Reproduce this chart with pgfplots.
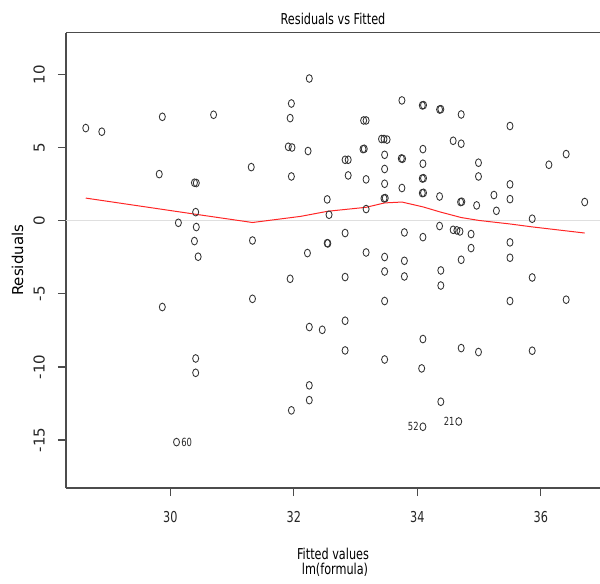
\documentclass[border=0pt]{standalone}
\usepackage{pgfplots}
\pgfplotsset{compat=1.18}
\usepackage{pgfplotstable}
\usepackage{fontspec}
\setmainfont{DejaVu Sans}
\newfontfamily\hfont[FakeStretch=0.75]{DejaVu Sans}
\newcommand\hsz{\hfont\fontsize{11.25pt}{13.5pt}\selectfont}
\newcommand\vsz{\fontsize{11.25pt}{13.5pt}\selectfont}
\newcommand\idsz{\hfont\fontsize{8.4pt}{10pt}\selectfont}

\pgfplotstableread{
x y
28.63 6.34
28.89 6.09
29.82 3.19
29.87 7.11
29.87 -5.90
30.10 -15.14
30.13 -0.14
30.39 2.60
30.42 2.58
30.41 0.59
30.42 -0.43
30.39 -1.39
30.45 -2.46
30.41 -9.42
30.41 -10.40
30.70 7.25
31.31 3.67
31.33 -1.35
31.33 -5.34
31.94 7.02
31.96 8.02
31.91 5.06
31.97 5.01
31.96 3.03
31.94 -3.97
31.96 -12.97
32.25 9.73
32.23 4.77
32.22 -2.21
32.25 -7.27
32.46 -7.46
32.25 -11.26
32.25 -12.27
32.54 1.46
32.57 0.41
32.54 -1.53
32.55 -1.55
32.83 4.17
32.88 4.17
32.88 3.10
32.83 -0.84
32.83 -3.85
32.83 -6.84
32.83 -8.87
33.13 6.86
33.17 6.86
33.12 4.90
33.14 4.92
33.17 2.83
33.17 0.80
33.17 -2.17
33.42 5.59
33.46 5.59
33.51 5.55
33.47 4.51
33.47 3.54
33.47 2.53
33.46 1.53
33.48 1.55
33.47 -2.48
33.47 -3.47
33.47 -5.49
33.47 -9.49
33.75 8.23
33.74 4.26
33.76 4.24
33.75 2.24
33.79 -0.80
33.79 -2.74
33.79 -3.81
34.08 7.89
34.10 7.91
34.09 4.90
34.09 3.90
34.08 2.89
34.10 2.91
34.08 1.89
34.10 1.91
34.09 -1.12
34.09 -8.09
34.07 -10.10
34.09 -14.09
34.36 7.61
34.38 7.63
34.36 1.66
34.36 -0.36
34.38 -3.40
34.38 -4.43
34.38 -12.38
34.58 5.47
34.71 5.27
34.71 7.27
34.70 1.28
34.72 1.30
34.58 -0.62
34.64 -0.66
34.69 -0.73
34.71 -2.67
34.71 -8.71
34.67 -13.73
34.87 -0.91
34.87 -1.87
34.99 3.97
34.99 3.03
34.96 1.05
34.99 -8.98
35.24 1.76
35.28 0.68
35.50 6.48
35.50 2.49
35.50 1.48
35.50 -1.48
35.50 -2.53
35.50 -5.49
35.86 0.14
35.86 -3.88
35.86 -8.89
36.13 3.83
36.41 4.56
36.41 -5.40
36.71 1.28
}\residtab

\pgfplotstableread{
x y
28.63 1.55
30.40 0.45
31.33 -0.12
32.11 0.30
32.55 0.65
33.17 0.92
33.47 1.22
33.75 1.28
34.09 0.95
34.37 0.60
34.71 0.22
35.00 0.02
35.50 -0.22
35.86 -0.42
36.71 -0.84
}\smoothtab

\pgfplotstableread{
x y lab
30.10 -15.14 60
}\idlefttab

\pgfplotstableread{
x y lab
34.09 -14.09 52
34.67 -13.73 21
}\idrighttab

\begin{document}
\begin{tikzpicture}
\useasboundingbox (-49.5pt,-71.25pt) rectangle (400.5pt,366pt);
\begin{axis}[
  name=ax, at={(0,0)}, anchor=south west,
  scale only axis, width=400.5pt, height=341.55pt,
  xmin=28.31, xmax=36.958, ymin=-18.28, ymax=12.87,
  axis lines*=left,
  xtick={30,32,34,36}, xticklabels={30,32,34,36},
  ytick={-15,-10,-5,0,5,10}, yticklabels={-15,-10,-5,0,5,10},
  tick align=outside, major tick length=6pt,
  axis line style={black!70, line width=0.9pt, -},
  every tick/.style={black!70, line width=0.9pt},
  xticklabel style={font=\hsz, anchor=base, text=black!85},
  yticklabel style={font=\vsz, rotate=90, anchor=base, text=black!85},
  xticklabel shift=19.5pt, yticklabel shift=10.1pt,
  title={Residuals vs Fitted},
  every axis title/.style={at={(0.5,1)}, anchor=base, yshift=6pt, font=\hsz},
  xlabel={Fitted values},
  every axis x label/.style={at={(0.5,0)}, anchor=base, yshift=-53.25pt, font=\hsz},
  ylabel={Residuals},
  every axis y label/.style={at={(-0.0805,0.5)}, rotate=90, anchor=base, font=\vsz},
]
\addplot[gray!25, line width=0.75pt] coordinates {(28.31,0) (36.958,0)};
\addplot[only marks, mark=o, mark size=2.9pt,
  mark options={xscale=0.78, line width=0.65pt, black!80}] table[x=x,y=y] {\residtab};
\addplot[red!85!white, line width=0.75pt] table[x=x,y=y] {\smoothtab};
\addplot[draw=none, nodes near coords, point meta=explicit symbolic,
  nodes near coords style={anchor=west, xshift=3.4pt, inner sep=0pt, font=\idsz, text=black!85}]
  table[x=x,y=y,meta=lab] {\idlefttab};
\addplot[draw=none, nodes near coords, point meta=explicit symbolic,
  nodes near coords style={anchor=east, xshift=-3.0pt, inner sep=0pt, font=\idsz, text=black!85}]
  table[x=x,y=y,meta=lab] {\idrighttab};
\draw[black!70, line width=0.9pt] (rel axis cs:0,1) -- (rel axis cs:1,1);
\end{axis}
\node[font=\hsz, anchor=base] at (201.75pt,-64.5pt) {lm(formula)};
\end{tikzpicture}
\end{document}
